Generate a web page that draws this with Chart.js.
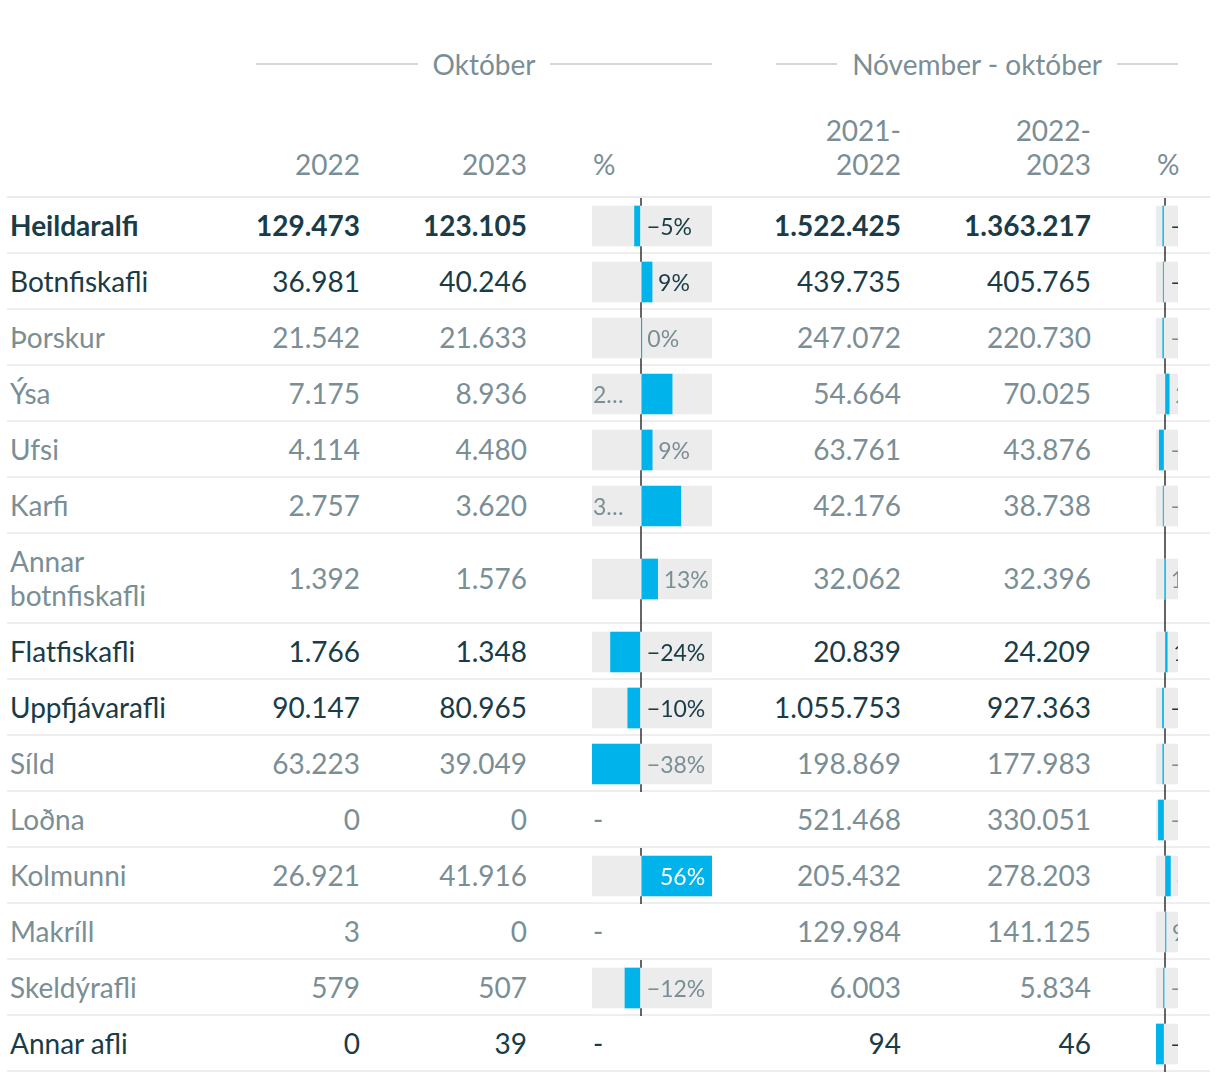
<!DOCTYPE html>
<html lang="is">
<head>
<meta charset="utf-8">
<title>Afli</title>
<script src="https://cdn.jsdelivr.net/npm/chart.js@4.4.0/dist/chart.umd.min.js"></script>
<style>
  html, body { margin: 0; background: #fff; }
  body { width: 1220px; height: 1082px; overflow: hidden; position: relative; font-family: Lato, sans-serif; }
  .group { position: absolute; top: 47px; height: 34px; display: flex; align-items: center; font-size: 28px; color: #7a8e95; }
  .group .rule { flex: 1; height: 2px; background: #d6d6d6; }
  .group span { padding: 0 15px; line-height: 34px; white-space: nowrap; }
  table { position: absolute; left: 7px; top: 113px; width: 1203px; table-layout: fixed; border-collapse: separate; border-spacing: 0; font-size: 28px; }
  th { font-weight: 400; color: #7a8e95; vertical-align: bottom; padding: 0 10px 15px 0; line-height: 34px; text-align: right; border-bottom: 2px solid #ebebeb; }
  td { padding: 10px 10px 10px 0; line-height: 34px; text-align: right; border-bottom: 2px solid #eeeeee; vertical-align: middle; color: #7a8e95; }
  tr.dark td { color: #193c47; }
  tr.bold td.num, tr.bold td.name { font-weight: 700; }
  td.name { text-align: left; padding-left: 3px; }
  th.pct, td.pct { text-align: left; padding-left: 56px; padding-right: 0; position: relative; }
  .bar { position: absolute; left: 55px; top: 0; bottom: -2px; overflow: hidden; }
  .bar canvas { position: absolute; left: 0; top: 0; }
  .lab { position: absolute; top: 50%; transform: translateY(-50%); font-size: 23px; line-height: 1; white-space: nowrap; }
</style>
</head>
<body>
<div class="group" style="left:256px;width:456px"><div class="rule"></div><span>Október</span><div class="rule"></div></div>
<div class="group" style="left:776px;width:402px"><div class="rule"></div><span>Nóvember - október</span><div class="rule"></div></div>
<table id="tbl">
  <colgroup>
    <col style="width:193px"><col style="width:170px"><col style="width:167px"><col style="width:185px">
    <col style="width:189px"><col style="width:190px"><col style="width:109px">
  </colgroup>
  <thead>
    <tr>
      <th></th><th>2022</th><th>2023</th><th class="pct">%</th>
      <th>2021-<br>2022</th><th>2022-<br>2023</th><th class="pct">%</th>
    </tr>
  </thead>
  <tbody></tbody>
</table>
<script>
// afli í tonnum
const categories = ['Heildaralfi', 'Botnfiskafli', 'Þorskur', 'Ýsa', 'Ufsi', 'Karfi', 'Annar botnfiskafli',
  'Flatfiskafli', 'Uppfjávarafli', 'Síld', 'Loðna', 'Kolmunni', 'Makríll', 'Skeldýrafli', 'Annar afli'];
const okt2022 = [129473, 36981, 21542, 7175, 4114, 2757, 1392, 1766, 90147, 63223, 0, 26921, 3, 579, 0];
const okt2023 = [123105, 40246, 21633, 8936, 4480, 3620, 1576, 1348, 80965, 39049, 0, 41916, 0, 507, 39];
const oktChange = [-4.9, 8.8, 0.4, 24.5, 8.9, 31.3, 13.2, -23.7, -10.2, -38.2, null, 55.7, null, -12.4, null];
const tolf2122 = [1522425, 439735, 247072, 54664, 63761, 42176, 32062, 20839, 1055753, 198869, 521468, 205432, 129984, 6003, 94];
const tolf2223 = [1363217, 405765, 220730, 70025, 43876, 38738, 32396, 24209, 927363, 177983, 330051, 278203, 141125, 5834, 46];
const tolfChange = [-10.5, -7.7, -10.7, 28.1, -31.2, -8.2, 1.0, 16.2, -12.2, -10.5, -36.7, 35.4, 8.6, -2.8, -51.1];
const darkRows = ['Heildaralfi', 'Botnfiskafli', 'Flatfiskafli', 'Uppfjávarafli', 'Annar afli'];
const boldRows = ['Heildaralfi'];

const BLUE = '#00b4eb';
const BG = '#ececec';

const fmt = v => String(v).replace(/\B(?=(\d{3})+(?!\d))/g, '.');
const fmtPct = v => (Math.round(v) < 0 ? '\u2212' + Math.abs(Math.round(v)) : Math.round(v)) + '%';

const tbody = document.querySelector('#tbl tbody');
const barCells = [];

categories.forEach((name, i) => {
    const tr = document.createElement('tr');
    if (darkRows.includes(name)) tr.classList.add('dark');
    if (boldRows.includes(name)) tr.classList.add('bold');
    tr.innerHTML = `
        <td class="name">${name}</td>
        <td class="num">${fmt(okt2022[i])}</td>
        <td class="num">${fmt(okt2023[i])}</td>
        <td class="pct"></td>
        <td class="num">${fmt(tolf2122[i])}</td>
        <td class="num">${fmt(tolf2223[i])}</td>
        <td class="pct"></td>`;
    tbody.appendChild(tr);
    const pcts = tr.querySelectorAll('td.pct');
    barCells.push({ td: pcts[0], value: oktChange[i], width: 120, min: Math.min(...oktChange.filter(v => v !== null)), max: Math.max(...oktChange.filter(v => v !== null)), fit: true });
    barCells.push({ td: pcts[1], value: tolfChange[i], width: 22, min: Math.min(...tolfChange), max: 81, fit: false });
});

function drawCell(cell) {
    const td = cell.td;
    if (cell.value === null) {
        td.textContent = '-';
        return;
    }
    td.innerHTML = '&nbsp;';
    const box = document.createElement('div');
    box.className = 'bar';
    box.style.width = cell.width + 'px';
    td.appendChild(box);
    const h = box.clientHeight;
    const canvas = document.createElement('canvas');
    canvas.width = cell.width;
    canvas.height = h;
    canvas.style.width = cell.width + 'px';
    canvas.style.height = h + 'px';
    box.appendChild(canvas);

    const chart = new Chart(canvas, {
        type: 'bar',
        data: {
            labels: [''],
            datasets: [
                { data: [cell.value], backgroundColor: BLUE, barThickness: 40, grouped: false, borderWidth: 0 },
                { data: [[cell.min, cell.max]], backgroundColor: BG, barThickness: 40, grouped: false, borderWidth: 0 }
            ]
        },
        options: {
            indexAxis: 'y',
            responsive: false,
            animation: false,
            events: [],
            layout: { padding: 0 },
            plugins: { legend: { display: false }, tooltip: { enabled: false } },
            scales: {
                x: {
                    min: cell.min,
                    max: cell.max,
                    z: 1,
                    afterBuildTicks: s => { s.ticks = [{ value: 0 }]; },
                    grid: { color: 'rgba(0,0,0,0.6)', lineWidth: 2, drawTicks: false, tickLength: 0 },
                    border: { display: false },
                    ticks: { display: false }
                },
                y: { display: false }
            }
        }
    });

    // label next to the bar
    const x = chart.scales.x;
    const x0 = x.getPixelForValue(0);
    const xv = x.getPixelForValue(cell.value);
    const lab = document.createElement('span');
    lab.className = 'lab';
    lab.textContent = fmtPct(cell.value);
    box.appendChild(lab);
    const tw = lab.offsetWidth;
    if (cell.value <= 0 || !cell.fit) {
        lab.style.left = (Math.max(x0, xv) + 6) + 'px';
    } else if (cell.width - xv >= tw + 8) {
        lab.style.left = (xv + 6) + 'px';
    } else if (xv - x0 >= tw + 10) {
        lab.style.left = (xv - 7 - tw) + 'px';
        lab.style.color = '#fff';
    } else {
        lab.style.left = '1px';
        lab.style.maxWidth = (x0 - 10) + 'px';
        lab.style.overflow = 'hidden';
        lab.style.textOverflow = 'ellipsis';
    }
}

barCells.forEach(drawCell);
</script>
</body>
</html>
